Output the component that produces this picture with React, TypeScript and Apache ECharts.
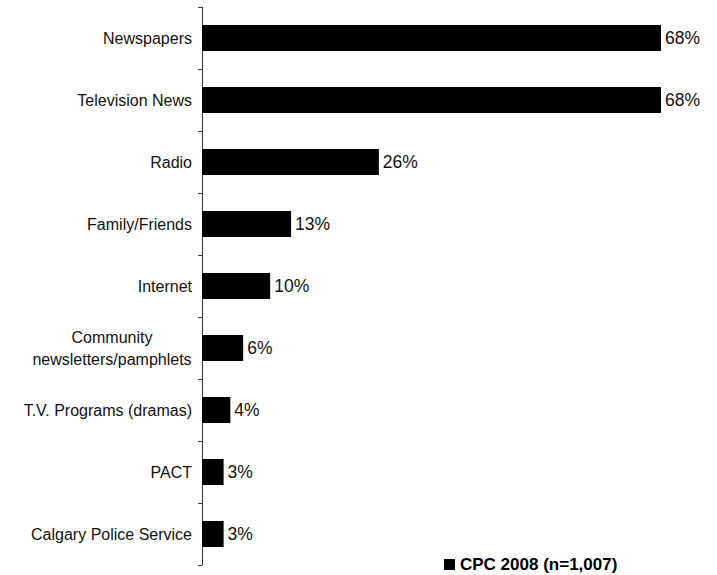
import React, { useEffect, useRef } from "react";
import * as echarts from "echarts";

const categories = [
  "Newspapers",
  "Television News",
  "Radio",
  "Family/Friends",
  "Internet",
  "Community\nnewsletters/pamphlets",
  "T.V. Programs (dramas)",
  "PACT",
  "Calgary Police Service",
];
const values = [68, 68, 26.2, 13.2, 10.1, 6.1, 4.2, 3.2, 3.2];
const labels = ["68%", "68%", "26%", "13%", "10%", "6%", "4%", "3%", "3%"];
const seriesName = "CPC 2008 (n=1,007)";

export default function App() {
  const ref = useRef<HTMLDivElement>(null);
  useEffect(() => {
    if (!ref.current) return;
    const chart = echarts.init(ref.current, undefined, { renderer: "svg" });
    const font = "'Liberation Sans', Arial, sans-serif";
    chart.setOption({
      animation: false,
      backgroundColor: "#ffffff",
      textStyle: { fontFamily: font },
      grid: { left: 202, right: 56, top: 7, bottom: 10, containLabel: false },
      legend: {
        data: [seriesName],
        left: 439,
        top: 551,
        icon: "rect",
        itemWidth: 11,
        itemHeight: 11,
        itemStyle: { color: "#000", borderWidth: 0 },
        textStyle: { fontFamily: font, fontSize: 17, fontWeight: "bold", color: "#000" },
      },
      xAxis: {
        type: "value",
        min: 0,
        max: 68,
        show: false,
      },
      yAxis: {
        type: "category",
        data: categories,
        inverse: true,
        axisLine: { show: true, lineStyle: { color: "#333", width: 1 } },
        axisTick: { show: true, length: 4, inside: false, lineStyle: { color: "#333" } },
        axisLabel: {
          margin: 10,
          fontFamily: font,
          fontSize: 16,
          color: "#111",
          formatter: (v: string) => {
            if (v.indexOf("\n") >= 0) {
              return v
                .split("\n")
                .map((s) => "{c|" + s + "}")
                .join("\n");
            }
            return v;
          },
          rich: {
            c: {
              width: 160,
              align: "center",
              fontSize: 16,
              fontFamily: font,
              color: "#111",
              lineHeight: 22,
            },
          },
        },
      },
      series: [
        {
          name: seriesName,
          type: "bar",
          data: values,
          barWidth: 26,
          itemStyle: { color: "#000" },
          label: {
            show: true,
            position: "right",
            distance: 4,
            fontFamily: font,
            fontSize: 17.5,
            color: "#111",
            formatter: (p: any) => labels[p.dataIndex],
          },
        },
      ],
    });
    return () => chart.dispose();
  }, []);
  return (
    <div
      ref={ref}
      style={{ position: "fixed", left: 0, top: 0, width: 717, height: 575 }}
    />
  );
}
